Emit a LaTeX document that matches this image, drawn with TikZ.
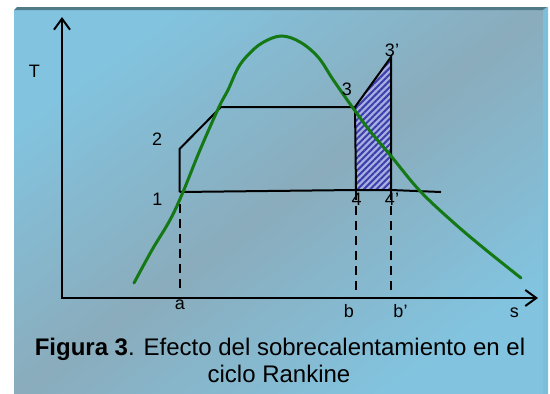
\documentclass[tikz,border=0pt]{standalone}
\usepackage{fontspec}
\setmainfont{Liberation Sans}
\usetikzlibrary{arrows.meta,patterns.meta}
\definecolor{bgblue}{RGB}{130,196,224}
\definecolor{bggrey}{RGB}{138,172,188}
\definecolor{bgdark}{RGB}{80,122,136}
\definecolor{bgedge}{RGB}{125,190,218}
\definecolor{curvegreen}{RGB}{20,120,20}
\definecolor{hatchblue}{RGB}{60,60,170}
\definecolor{hatchlight}{RGB}{165,175,225}
\begin{document}
\begin{tikzpicture}[x=1pt,y=-1pt,
  lbl/.style={font=\fontsize{18}{20}\selectfont, inner sep=0pt},
  captext/.style={font=\fontsize{24}{28}\selectfont, inner sep=0pt, anchor=base},
  axisline/.style={line width=2pt, {Straight Barb[length=11pt,width=16pt]}-{Straight Barb[length=11pt,width=16pt]}},
  cycline/.style={line width=2pt, line join=miter},
  dashline/.style={line width=2pt, dash pattern=on 9pt off 6pt},
  satcurve/.style={line width=3pt, curvegreen, line cap=round}]
\useasboundingbox (0,0) rectangle (550,394);
% background
\shade[top color=bgblue, bottom color=bgblue, middle color=bggrey, shading angle=36] (14,10) rectangle (545,394);
\fill[bgedge] (543,10) -- (547,7) -- (548,7) -- (548,394) -- (543,394) -- cycle;
\fill[bgdark] (14,10) -- (17,7) -- (547,7) -- (543,10) -- cycle;

% points
\coordinate (Ytip) at (62,17);
\coordinate (O) at (62,298);
\coordinate (Xtip) at (538,298);
\coordinate (p1) at (179.5,192);
\coordinate (p2) at (179.5,149);
\coordinate (pc) at (221,107);
\coordinate (p3) at (355,107);
\coordinate (p3p) at (391,57);
\coordinate (p4) at (356,190);
\coordinate (p4p) at (391,190);
\coordinate (pe) at (441,192);
\coordinate (da1) at (179.5,204);
\coordinate (da2) at (179.5,293);
\coordinate (db1) at (356,191);
\coordinate (db2) at (356,293);
\coordinate (dc1) at (390.5,191);
\coordinate (dc2) at (390.5,293);

% hatched area
\fill[hatchlight] (p3) -- (p3p) -- (p4p) -- (p4) -- cycle;
\fill[pattern={Lines[angle=45,distance=4.5pt,line width=2pt]}, pattern color=hatchblue] (p3) -- (p3p) -- (p4p) -- (p4) -- cycle;

% axes
\draw[axisline] (Ytip) -- (O) -- (Xtip);

% dashed projections
\draw[dashline] (da1) -- (da2);
\draw[dashline] (db1) -- (db2);
\draw[dashline] (dc1) -- (dc2);

% cycle
\draw[cycline] (p1) -- (p2) -- (pc) -- (p3) -- (p4);
\draw[cycline] (p3) -- (p3p) -- (p4p);
\draw[cycline] (p1) -- (p4) -- (p4p) -- (pe);

% saturation dome
\draw[satcurve] plot[smooth, tension=0.6] coordinates {
 (134,283) (152,250) (170,220) (183,192) (200,150) (219,107) (228,90)
 (238,68) (248,55) (262,43) (281,36) (300,42) (318,57) (332,78) (343,94)
 (353,108) (370,131) (391,156) (420,191) (454,223) (486,250) (521,278)};

% labels
\node[lbl] (lT) at (34.3,71.7) {T};
\node[lbl] (l2) at (157.2,139.7) {2};
\node[lbl] (l1) at (157.3,199.7) {1};
\node[lbl] (l3) at (347,89.5) {3};
\node[lbl] (l3p) at (392,50.8) {3’};
\node[lbl] (l4) at (356.7,199.7) {4};
\node[lbl] (l4p) at (392,199.7) {4’};
\node[lbl] (la) at (180,304.7) {a};
\node[lbl] (lb) at (349,310.8) {b};
\node[lbl] (lbp) at (400.5,310.8) {b’};
\node[lbl] (ls) at (514.4,313) {s};

% caption
\node[captext] (cap1) at (280,355) {\textbf{Figura 3}. Efecto del sobrecalentamiento en el};
\node[captext] (cap2) at (279,382) {ciclo Rankine};
\end{tikzpicture}
\end{document}
